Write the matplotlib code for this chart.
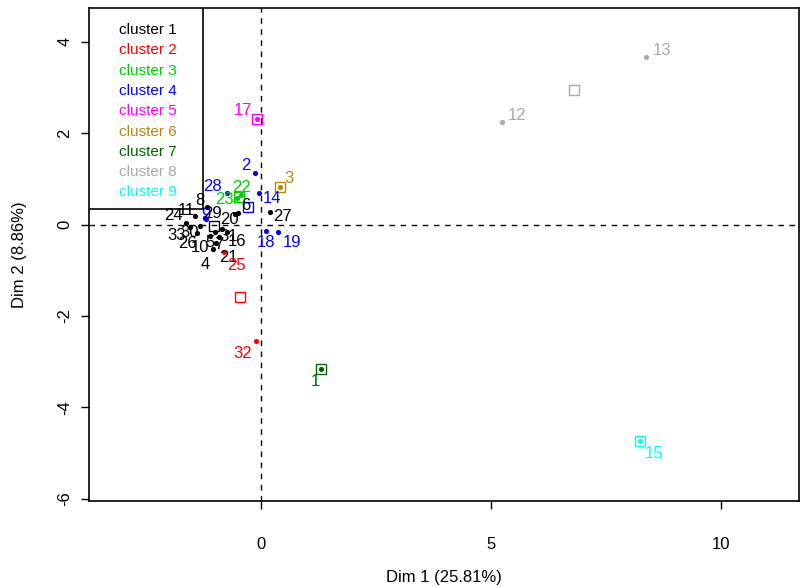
import numpy as np
import matplotlib
matplotlib.use("Agg")
import matplotlib.pyplot as plt
from matplotlib.patches import Rectangle

plt.rcParams["font.family"] = ["Liberation Sans", "DejaVu Sans"]
plt.rcParams["axes.unicode_minus"] = False

# individuals on the factor map: id, Dim 1, Dim 2, cluster
ids = [1, 2, 3, 4, 5, 6, 7, 8, 9, 10, 11, 12, 13, 14, 15, 16, 17,
       18, 19, 20, 21, 22, 23, 24, 25, 26, 27, 28, 29, 30, 31, 32, 33]
dim1 = [1.30, -0.14, 0.41, -1.05, -1.00, -0.50, -0.91, -1.18, -1.20, -1.11,
        -1.44, 5.24, 8.37, -0.05, 8.24, -0.74, -0.09, 0.10, 0.36, -0.57,
        -0.98, -0.44, -0.53, -1.63, -0.81, -1.40, 0.19, -0.74, -1.22, -1.33,
        -0.85, -0.11, -1.55]
dim2 = [-3.16, 1.13, 0.82, -0.54, -0.16, 0.25, -0.27, 0.38, 0.12, -0.25,
        0.19, 2.24, 3.66, 0.69, -4.74, -0.16, 2.31, -0.14, -0.16, 0.23,
        -0.40, 0.65, 0.58, 0.03, -0.60, -0.19, 0.27, 0.69, 0.14, -0.03,
        -0.10, -2.55, -0.05]
cluster = [7, 4, 6, 1, 1, 1, 1, 1, 4, 1, 1, 8, 8, 4, 9, 1, 5,
           4, 4, 1, 1, 3, 3, 1, 2, 1, 1, 4, 1, 1, 1, 2, 1]

cluster_names = ["cluster 1", "cluster 2", "cluster 3", "cluster 4", "cluster 5",
                 "cluster 6", "cluster 7", "cluster 8", "cluster 9"]
colors = ["black", "#FF0000", "#00CD00", "#0000FF", "#FF00FF",
          "#B8860B", "#006400", "#A9A9A9", "#00FFFF"]

xlab = "Dim 1 (25.81%)"
ylab = "Dim 2 (8.86%)"

# label placement around each point (pixels, y up)
label_off = {
    1: (-6, -13), 2: (-9, 7), 3: (9, 9), 4: (-8, -15), 5: (-5, -11),
    6: (8, 8), 7: (-1, -8), 8: (-7, 7), 9: (0, 5), 10: (-10, -11),
    11: (-9, 5), 12: (15, 7), 13: (16, 7), 14: (13, -5), 15: (14, -12),
    16: (10, -10), 17: (-14, 9), 18: (0, -12), 19: (14, -11), 20: (-6, -5),
    21: (12, -15), 22: (1, 7), 23: (-12, -1), 24: (-13, 8), 25: (13, -13),
    26: (-9, -10), 27: (13, -4), 28: (-15, 7), 29: (7, 5), 30: (-10, -7),
    31: (6, -7), 32: (-13, -12), 33: (-13, -9),
}

x = np.array(dim1)
y = np.array(dim2)
cl = np.array(cluster)

fig = plt.figure(figsize=(8.0, 5.87), dpi=100)
ax = fig.add_axes([0.1115, 0.1465, 0.8875, 0.8398])

ax.set_xlim(-3.74, 11.70)
ax.set_ylim(-6.05, 4.74)

ax.axvline(0, color="black", lw=1, ls=(0, (4, 4)), zorder=1)
ax.axhline(0, color="black", lw=1, ls=(0, (4, 4)), zorder=1)

for k in range(1, 10):
    m = cl == k
    col = colors[k - 1]
    ax.scatter(x[m], y[m], s=14, color=col, zorder=3, linewidths=0)
    # cluster centre
    ax.plot(x[m].mean(), y[m].mean(), marker="s", ms=6.5, mfc="none",
            mec=col, mew=1, zorder=3)

for i, xi, yi, c in zip(ids, x, y, cl):
    ax.annotate(str(i), (xi, yi), xytext=label_off[i], textcoords="offset pixels",
                ha="center", va="center", color=colors[c - 1], fontsize=12,
                zorder=4)

# legend box in the top-left corner
box = Rectangle((0, 0.592), 0.160, 0.408, transform=ax.transAxes,
                facecolor="white", edgecolor="black", lw=1.2, zorder=3.5)
ax.add_patch(box)
for j, name in enumerate(cluster_names):
    ax.text(0.0415, 0.955 - j * 0.0411, name, transform=ax.transAxes,
            color=colors[j], fontsize=11, va="center", ha="left", zorder=5)

ax.set_xticks([0, 5, 10])
ax.set_yticks([-6, -4, -2, 0, 2, 4])
ax.tick_params(direction="out", length=6, width=1, labelsize=12)
ax.tick_params(axis="x", pad=20)
ax.tick_params(axis="y", labelrotation=90, pad=6)
for lab in ax.get_yticklabels():
    lab.set_va("center")
for s in ax.spines.values():
    s.set_linewidth(1.2)

ax.set_xlabel(xlab, fontsize=12, labelpad=13)
ax.set_ylabel(ylab, fontsize=12, labelpad=22)

fig.savefig("out.png", dpi=100)
